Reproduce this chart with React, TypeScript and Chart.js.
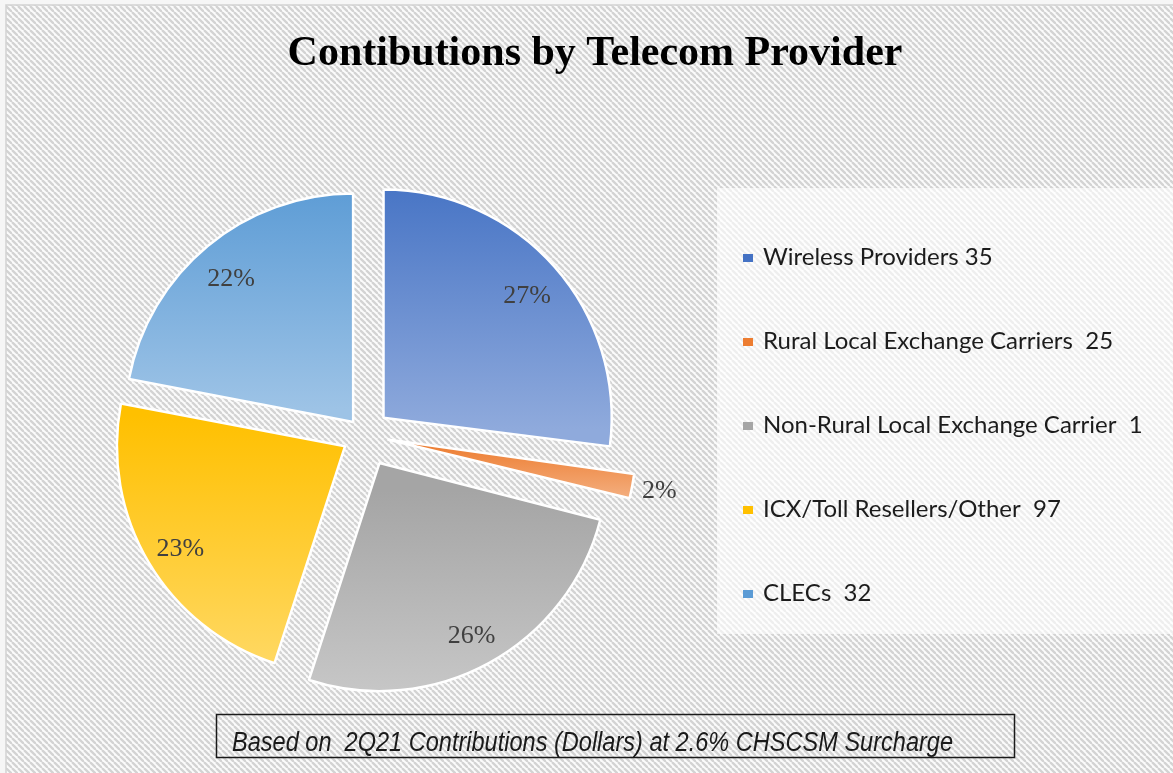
import React, { useEffect, useRef } from "react";
import { Chart, registerables } from "chart.js";

Chart.register(...registerables);

// ---- data ----
const TITLE = "Contibutions by Telecom Provider";
const CATEGORIES = [
  "Wireless Providers",
  "Rural Local Exchange Carriers",
  "Non-Rural Local Exchange Carrier",
  "ICX/Toll Resellers/Other",
  "CLECs",
];
const LEGEND_LABELS = [
  "Wireless Providers 35",
  "Rural Local Exchange Carriers  25",
  "Non-Rural Local Exchange Carrier  1",
  "ICX/Toll Resellers/Other  97",
  "CLECs  32",
];
const SHARES = [27, 2, 26, 23, 22];
const FOOTNOTE = "Based on  2Q21 Contributions (Dollars) at 2.6% CHSCSM Surcharge";

// ---- styles ----
const TOP_COLORS = ["#4472c4", "#ed7d31", "#a5a5a5", "#ffc000", "#5b9bd5"];
const BOTTOM_COLORS = ["#8faadc", "#f4b183", "#cbcbcb", "#ffd966", "#9dc3e6"];
const OFFSETS = [104, 96, 128, 88, 68]; // Chart.js offset units (translation = offset / 4)
const RADIUS = 228;
const W = 1173;
const H = 773;

function sliceGradient(context: any) {
  const i = context.dataIndex ?? 0;
  const chart = context.chart;
  const area = chart.chartArea;
  if (!area) return TOP_COLORS[i];
  const total = SHARES.reduce((a, b) => a + b, 0);
  let start = -Math.PI / 2;
  for (let j = 0; j < i; j++) start += (SHARES[j] / total) * Math.PI * 2;
  const end = start + (SHARES[i] / total) * Math.PI * 2;
  const cy = (area.top + area.bottom) / 2;
  const mid = (start + end) / 2;
  const t = OFFSETS[i] / 4;
  const vy = cy + Math.sin(mid) * t;
  let minY = vy;
  let maxY = vy;
  for (let k = 0; k <= 40; k++) {
    const a = start + ((end - start) * k) / 40;
    const y = vy + Math.sin(a) * RADIUS;
    if (y < minY) minY = y;
    if (y > maxY) maxY = y;
  }
  const g = chart.ctx.createLinearGradient(0, minY, 0, maxY);
  g.addColorStop(0, TOP_COLORS[i]);
  g.addColorStop(1, BOTTOM_COLORS[i]);
  return g;
}

function makeHatch(ctx: CanvasRenderingContext2D) {
  const s = 6;
  const c = document.createElement("canvas");
  c.width = s;
  c.height = s;
  const g = c.getContext("2d")!;
  g.fillStyle = "#fbfbfb";
  g.fillRect(0, 0, s, s);
  g.strokeStyle = "#d3d3d3";
  g.lineWidth = 2.3;
  for (const x0 of [-s, 0, s]) {
    g.beginPath();
    g.moveTo(x0, 0);
    g.lineTo(x0 + s, s);
    g.stroke();
  }
  return ctx.createPattern(c, "repeat")!;
}

const decorPlugin = {
  id: "decor",
  beforeDraw(chart: any) {
    const ctx: CanvasRenderingContext2D = chart.ctx;
    ctx.save();
    // background
    ctx.fillStyle = "#f6f6f6";
    ctx.fillRect(0, 0, W, H);
    ctx.fillStyle = makeHatch(ctx);
    ctx.fillRect(6, 5, W - 6, H - 5);
    ctx.strokeStyle = "#d2d2d2";
    ctx.lineWidth = 1.5;
    ctx.beginPath();
    ctx.moveTo(6, H);
    ctx.lineTo(6, 5);
    ctx.lineTo(W, 5);
    ctx.stroke();

    // title
    ctx.fillStyle = "#000000";
    ctx.font = 'bold 42px "Liberation Serif", "Times New Roman", serif';
    ctx.textAlign = "center";
    ctx.textBaseline = "alphabetic";
    ctx.fillText(TITLE, 595, 65);

    // legend panel
    ctx.fillStyle = "rgba(255,255,255,0.62)";
    ctx.fillRect(717, 188, W - 717, 446);
    ctx.font = '24px Lato, "Open Sans", sans-serif';
    ctx.textAlign = "left";
    LEGEND_LABELS.forEach((label, i) => {
      const y = 265 + i * 84;
      ctx.fillStyle = TOP_COLORS[i];
      ctx.fillRect(743, y - 11, 10, 8);
      ctx.fillStyle = "#1c1c1c";
      ctx.fillText(label, 763, y);
    });

    // footnote box
    ctx.strokeStyle = "#1a1a1a";
    ctx.lineWidth = 1.5;
    ctx.strokeRect(216.5, 714.5, 798, 43);
    ctx.font = 'italic 27px "Liberation Sans Narrow", "Liberation Sans", sans-serif';
    ctx.fillStyle = "#1a1a1a";
    const w = ctx.measureText(FOOTNOTE).width;
    ctx.translate(232, 751);
    ctx.scale(721 / w, 1);
    ctx.fillText(FOOTNOTE, 0, 0);
    ctx.restore();
  },
};

const pctLabelPlugin = {
  id: "pctLabels",
  afterDatasetsDraw(chart: any) {
    const ctx: CanvasRenderingContext2D = chart.ctx;
    const meta = chart.getDatasetMeta(0);
    ctx.save();
    ctx.font = '26px "Liberation Serif", "Times New Roman", serif';
    ctx.fillStyle = "#404040";
    ctx.textBaseline = "middle";
    meta.data.forEach((arc: any, i: number) => {
      const p = arc.getProps(["x", "y", "startAngle", "endAngle", "outerRadius", "circumference"], true);
      const off = (arc.options.offset || 0) / 4;
      const mid = (p.startAngle + p.endAngle) / 2;
      const vx = p.x + Math.cos(mid) * off;
      const vy = p.y + Math.sin(mid) * off;
      const text = SHARES[i] + "%";
      if (SHARES[i] < 5) {
        const fix = 1 - Math.sin(Math.min(Math.PI, p.circumference));
        const d = p.outerRadius + off * fix + 10;
        ctx.textAlign = "left";
        ctx.fillText(text, vx + Math.cos(mid) * d, vy + Math.sin(mid) * d + 3);
      } else {
        const d = p.outerRadius * 0.84;
        ctx.textAlign = "center";
        ctx.fillText(text, vx + Math.cos(mid) * d, vy + Math.sin(mid) * d + 5);
      }
    });
    ctx.restore();
  },
};

export default function App() {
  const ref = useRef<HTMLCanvasElement | null>(null);
  useEffect(() => {
    if (!ref.current) return;
    const chart = new Chart(ref.current, {
      type: "pie",
      data: {
        labels: CATEGORIES,
        datasets: [
          {
            data: SHARES,
            backgroundColor: sliceGradient as any,
            borderColor: "#ffffff",
            borderWidth: 2.5,
            offset: OFFSETS,
            radius: RADIUS,
          } as any,
        ],
      },
      options: {
        responsive: false,
        animation: false,
        events: [],
        radius: RADIUS,
        layout: { padding: { left: 0, right: W - 728, top: 97, bottom: 0 } },
        plugins: {
          legend: { display: false },
          title: { display: false },
          tooltip: { enabled: false },
        },
      } as any,
      plugins: [decorPlugin, pctLabelPlugin],
    });
    return () => chart.destroy();
  }, []);
  return (
    <div style={{ position: "fixed", left: 0, top: 0, width: W, height: H }}>
      <canvas ref={ref} width={W} height={H} style={{ display: "block" }} />
    </div>
  );
}
